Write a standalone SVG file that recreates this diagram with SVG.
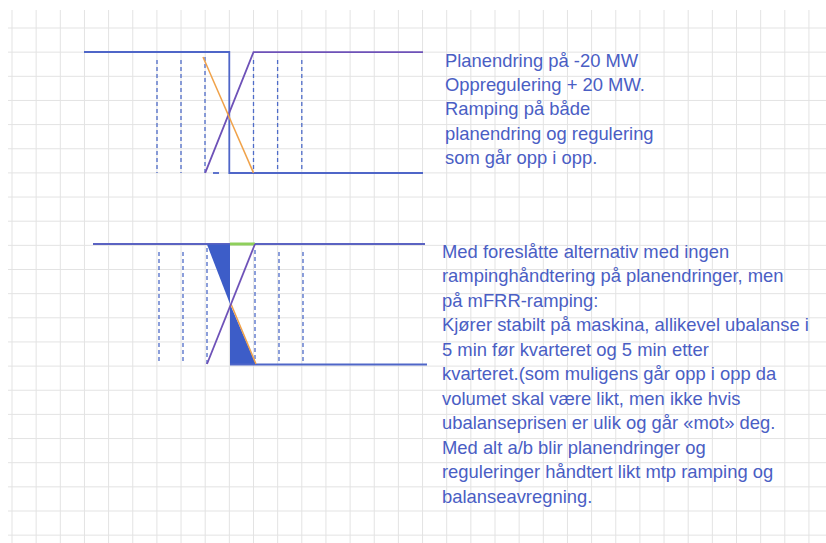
<svg xmlns="http://www.w3.org/2000/svg" width="826" height="543" viewBox="0 0 826 543">
<defs>
<style>
.g{stroke:#e3e3e3;stroke-width:1}
.blue{stroke:#4f66c8;stroke-width:1.8;fill:none}
.pur{stroke:#6e52b8;stroke-width:1.8;fill:none}
.org{stroke:#f0a24a;stroke-width:1.5;fill:none}
.dash{stroke:#4f6cc8;stroke-width:1.3;stroke-dasharray:4 3;fill:none}
.t{font-family:"Liberation Sans",Arial,sans-serif;font-size:18.4px;fill:#4a5ec4}
</style>
</defs>
<rect width="826" height="543" fill="#ffffff"/>
<g id="grid">
<path class="g" d="M12 10V543M36.15 10V543M60.3 10V543M84.45 10V543M108.6 10V543M132.75 10V543M156.9 10V543M181.05 10V543M205.2 10V543M229.35 10V543M253.5 10V543M277.65 10V543M301.8 10V543M325.95 10V543M350.1 10V543M374.25 10V543M398.4 10V543M422.55 10V543M446.7 10V543M470.85 10V543M495 10V543M519.15 10V543M543.3 10V543M567.45 10V543M591.6 10V543M615.75 10V543M639.9 10V543M664.05 10V543M688.2 10V543M712.35 10V543M736.5 10V543M760.65 10V543M784.8 10V543M808.95 10V543"/>
<path class="g" d="M8 28H826M8 52.15H826M8 76.3H826M8 100.45H826M8 124.6H826M8 148.75H826M8 172.9H826M8 197.05H826M8 221.2H826M8 245.35H826M8 269.5H826M8 293.65H826M8 317.8H826M8 341.95H826M8 366.1H826M8 390.25H826M8 414.4H826M8 438.55H826M8 462.7H826M8 486.85H826M8 511H826M8 535.15H826"/>
</g>
<g id="diagram-top">
<path class="dash" d="M157 60V173M181 60V173M205 57V173M253.5 60V173M277.6 60V173M301.8 60V173"/>
<path class="blue" d="M84 52H229.3V173H423"/>
<path class="pur" d="M205.2 172.9L253.5 52.2H423"/>
<path class="org" d="M203 57L253.5 172.9"/>
<path class="blue" d="M213 173H219" stroke-width="1.5"/>
</g>
<g id="diagram-bottom">
<path class="dash" d="M159 252V364M183 252V364M207 248V364M255 250V364M279 252V364M303 252V364"/>
<path d="M93 244H425" stroke="#5b63c2" stroke-width="1.8"/>
<path d="M230 244H255" stroke="#8fcf5c" stroke-width="3"/>
<polygon points="207,244.5 230,244.5 230,304" fill="#3d5dc8"/>
<polygon points="230,304 230,364.5 256,364.5" fill="#3d5dc8"/>
<path class="blue" d="M230 364.5H427"/>
<path class="org" d="M231 304L256 364"/>
<path class="pur" d="M207 364L255 244" stroke-width="1.5"/>
</g>
<g id="text-top" class="t">
<text x="445" y="67">Planendring på -20 MW</text>
<text x="445" y="91.2">Oppregulering + 20 MW.</text>
<text x="445" y="115.4">Ramping på både</text>
<text x="445" y="139.5">planendring og regulering</text>
<text x="445" y="163.6">som går opp i opp.</text>
</g>
<g id="text-bottom" class="t">
<text x="442" y="257.5">Med foreslåtte alternativ med ingen</text>
<text x="442" y="282">rampinghåndtering på planendringer, men</text>
<text x="442" y="306.5">på mFRR-ramping:</text>
<text x="442" y="331">Kjører stabilt på maskina, allikevel ubalanse i</text>
<text x="442" y="355.5">5 min før kvarteret og 5 min etter</text>
<text x="442" y="380">kvarteret.(som muligens går opp i opp da</text>
<text x="442" y="404.5">volumet skal være likt, men ikke hvis</text>
<text x="442" y="429">ubalanseprisen er ulik og går «mot» deg.</text>
<text x="442" y="453.5">Med alt a/b blir planendringer og</text>
<text x="442" y="478">reguleringer håndtert likt mtp ramping og</text>
<text x="442" y="502.5">balanseavregning.</text>
</g>
</svg>
